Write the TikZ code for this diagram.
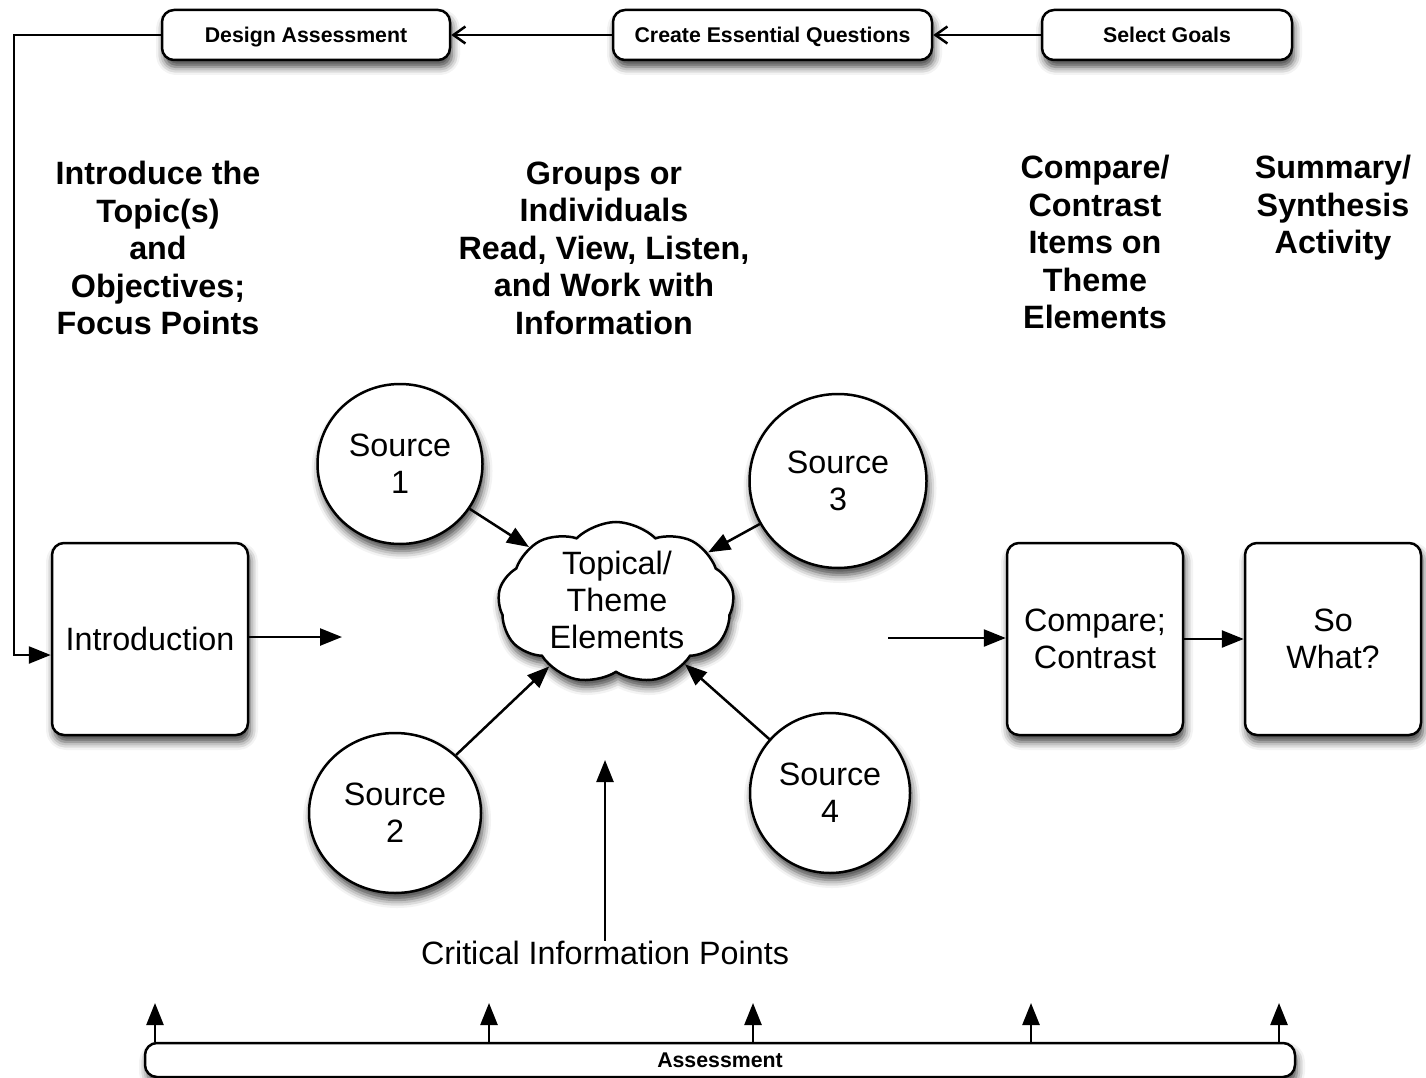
\documentclass[tikz,border=0pt]{standalone}
\usepackage{fontspec}
\setmainfont{Liberation Sans}
\usetikzlibrary{arrows.meta,shapes.symbols,shapes.geometric,shadows.blur,calc}
\begin{document}
\begin{tikzpicture}[x=1pt,y=-1pt,
  lw/.style={line width=2.5pt},
  shad/.style={blur shadow={shadow xshift=2pt,shadow yshift=-7pt,shadow blur radius=8pt,shadow opacity=75}},
  bigfont/.style={font=\fontsize{32.3}{37}\selectfont},
  headfont/.style={font=\fontsize{32.3}{37.5}\selectfont\bfseries},
  smallbold/.style={font=\fontsize{21.3}{25}\selectfont\bfseries},
  bigbox/.style={draw,lw,rounded corners=12pt,fill=white,shad,minimum height=192pt,inner sep=0pt,align=center,bigfont},
  topbox/.style={draw,lw,rounded corners=12pt,fill=white,shad,minimum height=50pt,inner sep=0pt,text height=15.3pt,text depth=0pt,smallbold},
  src/.style={draw,lw,ellipse,fill=white,shad,inner sep=0pt,align=center,bigfont},
  head/.style={align=center,inner sep=0pt,headfont},
  arr/.style={lw,-{Triangle[length=22pt,width=17pt]}},
  openarr/.style={lw,-{Straight Barb[length=12pt,width=17pt,line width=2.5pt]}}
]
\useasboundingbox (0,0) rectangle (1426,1078);

% top boxes
\node[topbox,minimum width=288pt] (design) at (306,35) {Design Assessment};
\node[topbox,minimum width=319pt] (ceq) at (772.5,35) {Create Essential Questions};
\node[topbox,minimum width=250pt] (goals) at (1167,35) {Select Goals};

% headings
\node[head] (h1) at (158,248) {Introduce the\\Topic(s)\\and\\Objectives;\\Focus Points};
\node[head] (h2) at (604,248) {Groups or\\Individuals\\Read, View, Listen,\\and Work with\\Information};
\node[head] (h3) at (1095,242) {Compare/\\Contrast\\Items on\\Theme\\Elements};
\node[head] (h4) at (1333,208) {Summary/\\Synthesis\\Activity};

% main boxes
\node[bigbox,minimum width=196pt] (intro) at (150,639) {Introduction};
\node[bigbox,minimum width=176pt] (compare) at (1095,639) {Compare;\\Contrast};
\node[bigbox,minimum width=176pt] (sowhat) at (1333,639) {So\\What?};

% cloud
\node[draw,lw,cloud,cloud puffs=9,cloud puff arc=90,cloud ignores aspect,fill=white,shad,
      minimum width=236pt,minimum height=162pt,inner sep=0pt]
      (cloud) at (616,603) {};
\node[align=center,inner sep=0pt,bigfont] (cloudtext) at (617,600) {Topical/\\Theme\\Elements};

% sources
\node[src,minimum width=165pt,minimum height=160pt] (s1) at (400,464) {Source\\1};
\node[src,minimum width=177pt,minimum height=174pt] (s3) at (838,481) {Source\\3};
\node[src,minimum width=172pt,minimum height=160pt] (s2) at (395,813) {Source\\2};
\node[src,minimum width=160pt,minimum height=160pt] (s4) at (830,793) {Source\\4};

% critical info
\node[inner sep=0pt,bigfont] (crit) at (605,953) {Critical Information Points};

% assessment bar
\node[draw,lw,rounded corners=12pt,fill=white,shad,minimum width=1150pt,minimum height=34pt,inner sep=0pt,text height=15.3pt,text depth=0pt,smallbold] (assess) at (720,1060) {Assessment};

% coordinates
\coordinate (lcorner) at (14,655);
\coordinate (introend) at (342,637);
\coordinate (cmpstart) at (888,638);
\coordinate (critend) at (605,760);
\coordinate (a1) at (155,1003);
\coordinate (a2) at (489,1003);
\coordinate (a3) at (753,1003);
\coordinate (a4) at (1031,1003);
\coordinate (a5) at (1279,1003);

% connectors
\draw[openarr] (goals.west) -- (ceq.east);
\draw[openarr] (ceq.west) -- (design.east);
\draw[arr] (design.west) -| (lcorner) -- (intro.west |- lcorner);
\draw[arr] (intro.east |- introend) -- (introend);
\draw[arr] (s1) -- (cloud);
\draw[arr] (s3) -- (cloud);
\draw[arr] (s2) -- (cloud);
\draw[arr] (s4) -- (cloud);
\draw[arr] (crit.north) -- (critend);
\draw[arr] (cmpstart) -- (compare.west |- cmpstart);
\draw[arr] (compare.east) -- (sowhat.west);
\foreach \a in {a1,a2,a3,a4,a5}
  \draw[arr] (assess.north -| \a) -- (\a);
\end{tikzpicture}
\end{document}
